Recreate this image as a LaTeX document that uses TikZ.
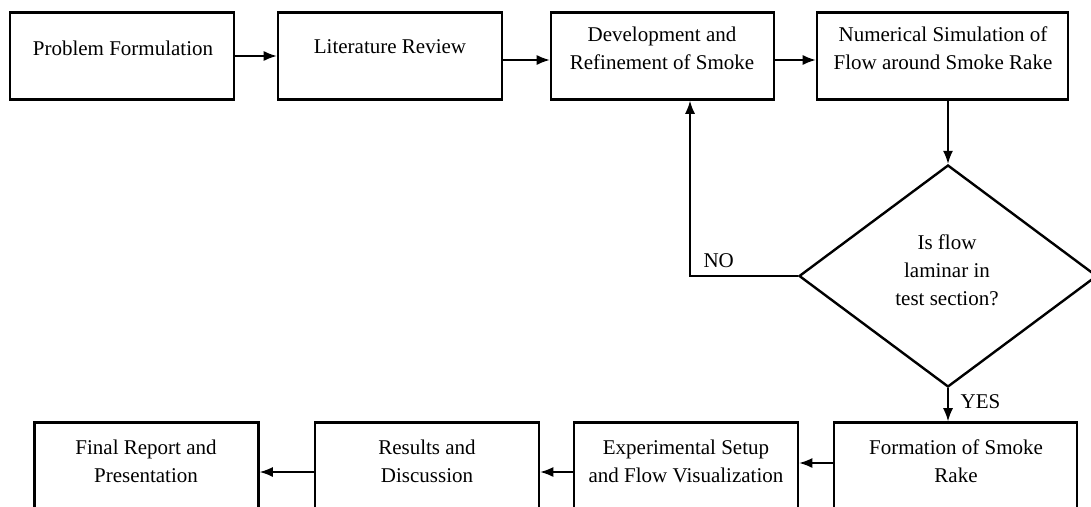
\documentclass[tikz,border=0pt]{standalone}
\usepackage{fontspec}
\setmainfont{Liberation Serif}
\usetikzlibrary{arrows.meta,shapes.geometric}
\begin{document}
\begin{tikzpicture}[x=1pt,y=-1pt,>={Latex[length=13pt,width=10pt]},
  box/.style={draw,line width=2.6pt,minimum width=224pt,minimum height=87pt},
  txt/.style={font=\fontsize{21}{28}\selectfont,align=center,inner sep=0pt},
  link/.style={->,line width=1.4pt}]
\useasboundingbox (0,0) rectangle (1091,506);
\coordinate (A) at (122,56);
\coordinate (B) at (390,56);
\coordinate (C) at (662.5,56);
\coordinate (D) at (942.5,56);
\coordinate (E) at (948,276);
\coordinate (F) at (955.5,466);
\coordinate (G) at (686,466);
\coordinate (H) at (427,466);
\coordinate (I) at (146.5,466);
\node[box] (prob) at (A) {};
\node[box] (lit) at (B) {};
\node[box,minimum width=223pt] (dev) at (C) {};
\node[box,minimum width=251pt] (num) at (D) {};
\node[draw,diamond,line width=2.4pt,minimum width=298pt,minimum height=222pt] (flow) at (E) {};
\node[box,minimum width=243pt] (form) at (F) {};
\node[box] (exp) at (G) {};
\node[box] (res) at (H) {};
\node[box] (rep) at (I) {};
\node[txt] (probt) at (123,48) {Problem Formulation};
\node[txt] (litt) at (390,47) {Literature Review};
\node[txt] (devt) at (662,48) {Development and\\Refinement of Smoke};
\node[txt] (numt) at (943,48) {Numerical Simulation of\\Flow around Smoke Rake};
\node[txt] (flowt) at (947,270) {Is flow\\laminar in\\test section?};
\node[txt] (formt) at (956,461) {Formation of Smoke\\Rake};
\node[txt] (expt) at (686,461) {Experimental Setup\\and Flow Visualization};
\node[txt] (rest) at (427,461) {Results and\\Discussion};
\node[txt] (rept) at (146,461) {Final Report and\\Presentation};
\draw[link] (prob) -- (lit);
\draw[link] ([yshift=-4pt]lit.east) -- ([yshift=-4pt]dev.west);
\draw[link] ([yshift=-4pt]dev.east) -- ([yshift=-4pt]num.west);
\draw[link] (num.south -| flow.north) -- (flow.north);
\draw[link] (flow.west) -| ([xshift=27.5pt]dev.south) node[txt,pos=0.367,above=8pt] {NO};
\draw[link] (flow.south) -- (flow.south |- form.north) node[txt,pos=0.4,right=12pt] {YES};
\draw[link] ([yshift=3pt]form.west) -- ([yshift=3pt]exp.east);
\draw[link] ([yshift=-6pt]exp.west) -- ([yshift=-6pt]res.east);
\draw[link] ([yshift=-6pt]res.west) -- ([yshift=-6pt]rep.east);
\end{tikzpicture}
\end{document}
